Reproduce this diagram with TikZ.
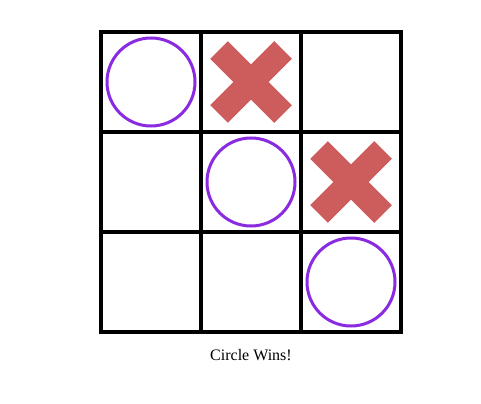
\documentclass[tikz,border=0pt]{standalone}
\usepackage{fontspec}
\setmainfont{Liberation Serif}
\begin{document}
\begin{tikzpicture}[x=0.75pt,y=-0.75pt,every node/.style={font=\fontsize{12}{14}\selectfont}]
    \tikzset{
      cell/.style={draw=black,line width=3pt,minimum size=75pt,inner sep=0pt},
      ring/.style={circle,draw={rgb,255:red,138;green,43;blue,226},line width=2.25pt,minimum size=66pt,inner sep=0pt},
      cross/.style={draw={rgb,255:red,205;green,92;blue,92},line width=18.75pt,line cap=butt}
    }
    \useasboundingbox (0,0) rectangle (481,403);
    \fill[white] (0,0) rectangle (481,403);
    % board
    \foreach \r in {1,2,3} {
      \foreach \c in {1,2,3} {
        \node[cell] (c\r\c) at ({51+100*\c},{-18+100*\r}) {};
      }
    }
    % circles on the diagonal
    \foreach \k in {c11,c22,c33} {
      \node[ring] (o\k) at (\k.center) {};
    }
    % crosses
    \foreach \k in {c12,c23} {
      \draw[cross] ([shift={(-32,-32)}]\k.center) -- ([shift={(32,32)}]\k.center);
      \draw[cross] ([shift={(32,-32)}]\k.center) -- ([shift={(-32,32)}]\k.center);
    }
    \node (caption) at (251,355) {Circle Wins!};
  \end{tikzpicture}
\end{document}
